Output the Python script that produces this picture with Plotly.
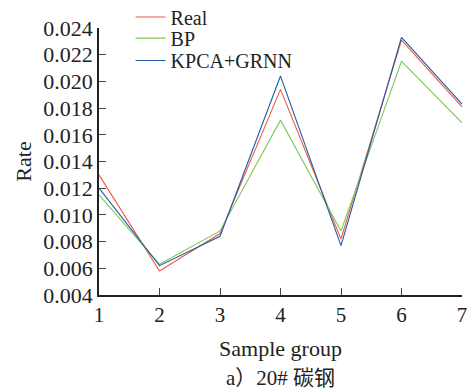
import plotly.graph_objects as go

groups = [1, 2, 3, 4, 5, 6, 7]
real = [0.0130, 0.0058, 0.0086, 0.0194, 0.0082, 0.0231, 0.0181]
bp = [0.0115, 0.0063, 0.0088, 0.0171, 0.0088, 0.0215, 0.0169]
kpca_grnn = [0.0120, 0.0062, 0.0084, 0.0204, 0.0077, 0.0233, 0.0183]
y_ticks = [0.004, 0.006, 0.008, 0.010, 0.012, 0.014, 0.016, 0.018, 0.020, 0.022, 0.024]

FONT = "Liberation Serif, Times New Roman, serif"

fig = go.Figure()
fig.add_trace(go.Scatter(x=groups, y=real, mode="lines", name="Real", legend="legend",
                         line=dict(color="#ee5a3e", width=1.1)))
fig.add_trace(go.Scatter(x=groups, y=bp, mode="lines", name="BP", legend="legend2",
                         line=dict(color="#7ccb5a", width=1.1)))
fig.add_trace(go.Scatter(x=groups, y=kpca_grnn, mode="lines", name="KPCA+GRNN", legend="legend3",
                         line=dict(color="#1d5aaa", width=1.1)))

leg_common = dict(x=0.087, xanchor="left", yanchor="middle",
                  bgcolor="rgba(0,0,0,0)", font=dict(size=20, family=FONT),
                  itemwidth=30)

fig.update_layout(
    width=469, height=390,
    margin=dict(l=99, r=7, t=28, b=95, autoexpand=False),
    paper_bgcolor="white", plot_bgcolor="white",
    font=dict(family=FONT, color="#222222", size=20),
    showlegend=True,
    legend=dict(y=1.041, **leg_common),
    legend2=dict(y=0.962, **leg_common),
    legend3=dict(y=0.878, **leg_common),
    xaxis=dict(range=[1, 7], tickvals=groups, ticks="inside", ticklen=7,
               showline=True, linecolor="#222222", linewidth=1.5,
               showgrid=False, zeroline=False, automargin=False,
               ticklabeloverflow="allow",
               tickfont=dict(size=21, family=FONT),
               title=dict(text="Sample group", font=dict(size=22, family=FONT), standoff=15)),
    yaxis=dict(range=[0.004, 0.024], tickvals=y_ticks, tickformat=".3f",
               ticks="inside", ticklen=7,
               showline=True, linecolor="#222222", linewidth=1.5,
               showgrid=False, zeroline=False, automargin=False,
               ticklabeloverflow="allow",
               tickfont=dict(size=22, family=FONT),
               title=dict(text="Rate", font=dict(size=22, family=FONT), standoff=6)),
    annotations=[dict(text="a）20# 碳钢", xref="paper", yref="paper",
                      x=0.5, y=-0.31, xanchor="center", yanchor="middle",
                      showarrow=False,
                      font=dict(size=21, family="Liberation Serif, Noto Sans CJK SC"))],
)

fig.write_html(
    "out.html",
    config={"displayModeBar": False},
    post_script="document.body.style.margin='0';document.documentElement.style.overflow='hidden';",
)
